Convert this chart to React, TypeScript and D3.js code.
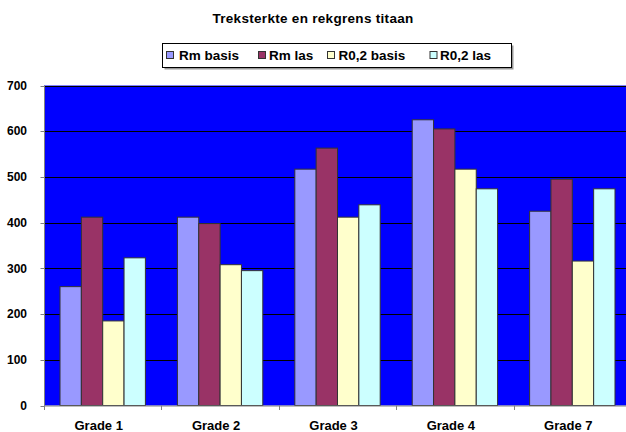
import React from "react";
import * as d3 from "d3";

const title = "Treksterkte en rekgrens titaan";
const categories = ["Grade 1", "Grade 2", "Grade 3", "Grade 4", "Grade 7"];
const seriesNames = ["Rm basis", "Rm las", "R0,2 basis", "R0,2 las"];
const seriesColors = ["#9999FF", "#993366", "#FFFFCC", "#CCFFFF"];
const rmBasis = [260, 412, 517, 625, 425];
const rmLas = [412, 398, 563, 605, 495];
const r02Basis = [185, 308, 412, 517, 316];
const r02Las = [323, 295, 439, 474, 474];
const yTicks = [0, 100, 200, 300, 400, 500, 600, 700];

const W = 626;
const H = 432;
const FONT = "'Liberation Sans', Arial, Helvetica, sans-serif";

export default function App() {
  const values = [rmBasis, rmLas, r02Basis, r02Las];
  const left = 44;
  const right = 631;
  const top = 85.5;
  const bottom = 405.5;

  const x0 = d3.scaleBand<string>().domain(categories).range([left, right]).padding(0);
  const x1 = d3
    .scaleBand<string>()
    .domain(seriesNames)
    .range([0, x0.bandwidth()])
    .paddingInner(0)
    .paddingOuter(0.75);
  const y = d3.scaleLinear().domain([0, 700]).range([bottom, top]);
  const ry = (v: number) => Math.round(y(v)) + 0.5;

  const legendItems = [
    { mx: 166, tx: 179 },
    { mx: 258, tx: 269 },
    { mx: 327, tx: 338.5 },
    { mx: 429.5, tx: 440 },
  ];

  return (
    <svg
      width={W}
      height={H}
      style={{ position: "absolute", left: 0, top: 0, background: "#fff" }}
      fontFamily={FONT}
    >
      <rect x={0} y={0} width={W} height={H} fill="#fff" />
      <text x={313} y={22.5} textAnchor="middle" fontSize={13.5} fontWeight="bold" fill="#000" letterSpacing={0.3}>
        {title}
      </text>

      {/* legend */}
      <rect x={164.5} y={45.5} width={349} height={24} fill="#999" />
      <rect x={162.5} y={43.5} width={349} height={24} fill="#fff" stroke="#000" strokeWidth={1} />
      {seriesNames.map((s, i) => (
        <g key={s}>
          <rect
            x={legendItems[i].mx + 0.5}
            y={51.5}
            width={7}
            height={7}
            fill={seriesColors[i]}
            stroke="#333"
            strokeWidth={1}
          />
          <text x={legendItems[i].tx} y={59.5} fontSize={13.5} fontWeight="bold" fill="#000">
            {s}
          </text>
        </g>
      ))}

      {/* plot area */}
      <rect x={left} y={top} width={right - left} height={bottom - top} fill="#0000FF" />
      {yTicks.slice(1).map((t) => (
        <line key={t} x1={left} x2={right} y1={ry(t)} y2={ry(t)} stroke="#000" strokeWidth={1} />
      ))}

      {/* bars */}
      {categories.map((c, ci) => (
        <g key={c} transform={`translate(${x0(c)},0)`}>
          {seriesNames.map((s, si) => {
            const v = values[si][ci];
            const bx = x1(s)!;
            const yt = y(v);
            return (
              <rect
                key={s}
                x={bx}
                y={yt}
                width={x1.bandwidth()}
                height={bottom - yt}
                fill={seriesColors[si]}
                stroke="#333"
                strokeWidth={1}
              />
            );
          })}
        </g>
      ))}

      {/* axes */}
      <line x1={left + 0.5} x2={left + 0.5} y1={top} y2={bottom} stroke="#808080" strokeWidth={1} />
      <line x1={left} x2={right} y1={bottom + 0.5} y2={bottom + 0.5} stroke="#808080" strokeWidth={1} />
      {yTicks.map((t) => (
        <g key={t}>
          <line x1={40.5} x2={left} y1={ry(t)} y2={ry(t)} stroke="#808080" strokeWidth={1} />
          <text
            x={27}
            y={y(t)}
            dy="0.35em"
            textAnchor="end"
            fontSize={12}
            fontWeight="bold"
            fill="#000"
          >
            {t}
          </text>
        </g>
      ))}
      {categories.map((c) => (
        <g key={c}>
          <line
            x1={Math.round(x0(c)!) + 0.5}
            x2={Math.round(x0(c)!) + 0.5}
            y1={bottom}
            y2={bottom + 4.5}
            stroke="#808080"
            strokeWidth={1}
          />
          <text
            x={x0(c)! + x0.bandwidth() / 2 - 4}
            y={430}
            textAnchor="middle"
            fontSize={13}
            fontWeight="bold"
            fill="#000"
          >
            {c}
          </text>
        </g>
      ))}
    </svg>
  );
}
